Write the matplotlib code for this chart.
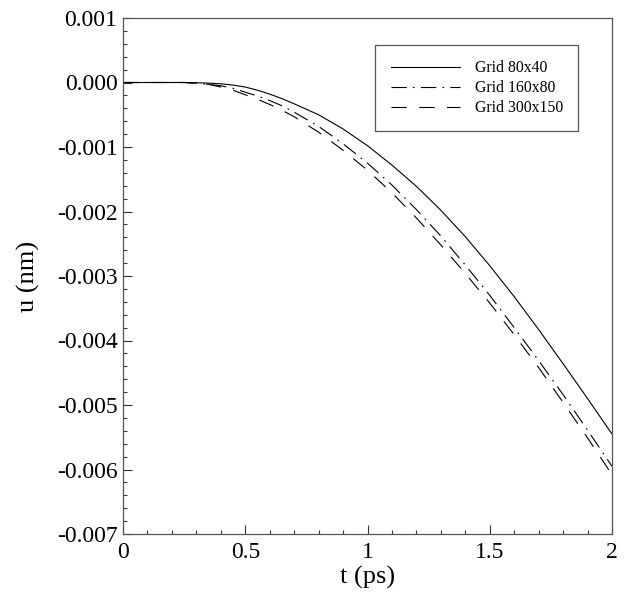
import numpy as np
import matplotlib
matplotlib.use("Agg")
import matplotlib.pyplot as plt
from matplotlib.ticker import MultipleLocator, FormatStrFormatter, FuncFormatter

plt.rcParams['font.family'] = ['Liberation Serif', 'DejaVu Serif']
plt.rcParams['axes.unicode_minus'] = False
plt.rcParams['lines.scale_dashes'] = False

# time (ps) and displacement (nm)
t = [0.0, 0.1, 0.2, 0.25, 0.3, 0.35, 0.4, 0.45, 0.5, 0.55, 0.6, 0.65,
     0.7, 0.8, 0.9, 1.0, 1.1, 1.2, 1.3, 1.4, 1.5, 1.6, 1.7, 1.8, 1.9, 2.0]
u_80x40 = [0.0, 0.0, 0.0, 0.0, -0.000004, -0.00001, -0.00002, -0.00004,
           -0.00007, -0.00012, -0.00018, -0.00025, -0.00033, -0.00050,
           -0.00072, -0.00098, -0.00128, -0.00161, -0.00198, -0.00239,
           -0.00284, -0.00332, -0.00383, -0.00436, -0.00490, -0.00545]
u_160x80 = [0.0, 0.0, 0.0, 0.0, -0.00001, -0.00003, -0.00005, -0.00009,
            -0.00015, -0.00021, -0.00028, -0.00036, -0.00046, -0.00068,
            -0.00095, -0.00125, -0.00159, -0.00197, -0.00238, -0.00283,
            -0.00330, -0.00380, -0.00431, -0.00484, -0.00539, -0.00595]
u_300x150 = [0.0, 0.0, 0.0, 0.0, -0.00001, -0.00003, -0.00007, -0.00012,
             -0.00019, -0.00026, -0.00034, -0.00043, -0.00053, -0.00077,
             -0.00105, -0.00136, -0.00171, -0.00210, -0.00252, -0.00296,
             -0.00342, -0.00391, -0.00442, -0.00496, -0.00551, -0.00608]
labels = ["Grid 80x40", "Grid 160x80", "Grid 300x150"]

fig = plt.figure(figsize=(6.32, 6.02), dpi=100)
ax = fig.add_axes([123/632, 1-534/602, (612-123)/632, (534-18)/602])

ax.plot(t, u_80x40, color='black', lw=0.8, label=labels[0])
ax.plot(t, u_160x80, color='black', lw=0.8, dashes=(11, 4.5, 1.2, 4.5), label=labels[1])
ax.plot(t, u_300x150, color='black', lw=0.8, dashes=(11, 9), label=labels[2])

ax.set_xlim(0, 2)
ax.set_ylim(-0.007, 0.001)
ax.xaxis.set_major_locator(MultipleLocator(0.5))
ax.xaxis.set_minor_locator(MultipleLocator(0.1))
ax.yaxis.set_major_locator(MultipleLocator(0.001))
ax.yaxis.set_minor_locator(MultipleLocator(0.0002))
ax.xaxis.set_major_formatter(FuncFormatter(lambda v, p: "%g" % v))
ax.yaxis.set_major_formatter(FormatStrFormatter("%.3f"))

ax.tick_params(which='both', direction='in', top=False, right=False,
               color='#333333', width=0.8, labelsize=17)
ax.tick_params(which='major', length=6.5)
ax.tick_params(which='minor', length=3.2)
ax.tick_params(axis='x', pad=6)
ax.tick_params(axis='y', pad=4)
for s in ax.spines.values():
    s.set_color('#555555')
    s.set_linewidth(0.9)

ax.set_xlabel("t (ps)", fontsize=19, labelpad=2)
ax.set_ylabel("u (nm)", fontsize=19, labelpad=12)

leg = ax.legend(loc='upper right', bbox_to_anchor=(578/632, 1-45/602),
                bbox_transform=fig.transFigure, fontsize=11.3, frameon=True,
                fancybox=False, shadow=False, handlelength=4.4,
                handletextpad=0.95, labelspacing=0.25, borderpad=0.97,
                borderaxespad=0)
leg.get_frame().set_edgecolor('#555555')
leg.get_frame().set_linewidth(0.9)
leg.get_frame().set_alpha(1)

fig.savefig("out.png", dpi=100)
